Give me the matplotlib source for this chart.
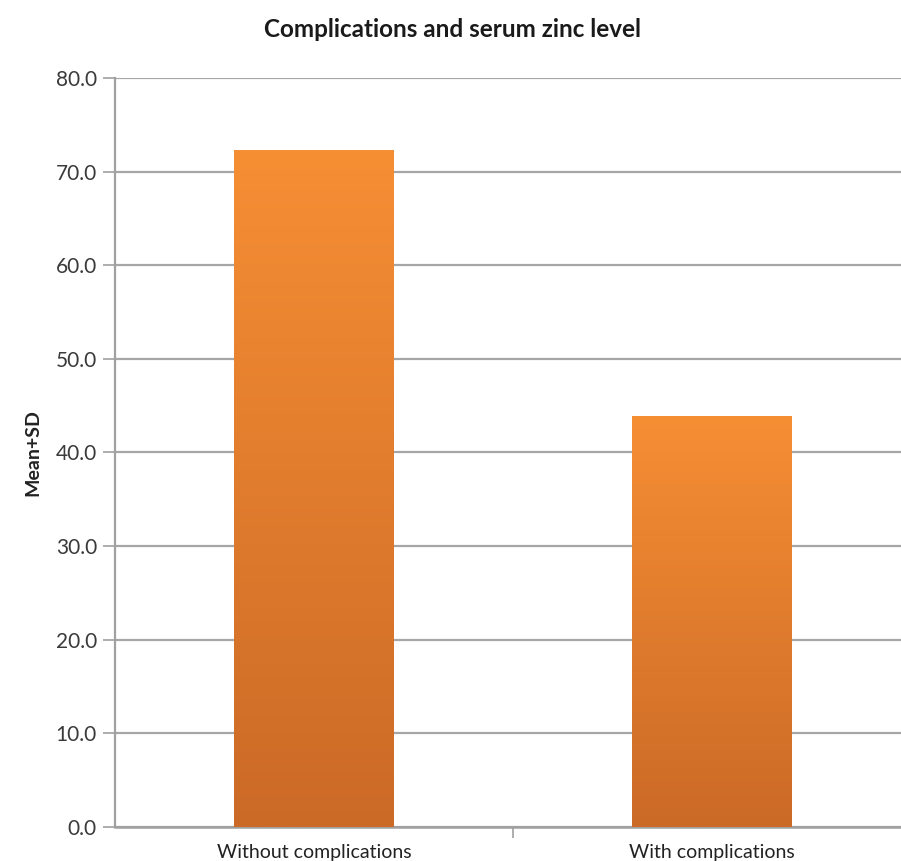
import numpy as np
import matplotlib.pyplot as plt
from matplotlib.colors import LinearSegmentedColormap

# Serum zinc level (mean + SD) by complication status
groups = ["Without complications", "With complications"]
values = [72.3, 43.9]
y_ticks = [0, 10, 20, 30, 40, 50, 60, 70, 80]

plt.rcParams['font.family'] = ['Lato', 'DejaVu Sans']

fig = plt.figure(figsize=(9.01, 8.61), dpi=100)
ax = fig.add_axes([0.1276, 0.0395, 0.8835, 0.8699])

x = np.arange(len(groups))
bars = ax.bar(x, values, width=0.4, color='none', zorder=3)

# vertical orange gradient inside each bar
grad_cmap = LinearSegmentedColormap.from_list('orange_grad', ['#CB6A27', '#F68E34'])
gradient = np.linspace(0, 1, 256).reshape(-1, 1)
for bar in bars:
    x0 = bar.get_x()
    x1 = x0 + bar.get_width()
    h = bar.get_height()
    img = ax.imshow(gradient, extent=[x0, x1, 0, h], origin='lower',
                    aspect='auto', cmap=grad_cmap, zorder=3)
    img.set_clip_path(bar)

ax.set_xlim(-0.5, 1.5)
ax.set_ylim(0, 80)

ax.set_yticks(y_ticks)
ax.set_yticklabels([f"{v:.1f}" for v in y_ticks], fontsize=15, color='#3a3a3a')
ax.yaxis.grid(True, color='#a6a6a6', linewidth=1.6, zorder=0)
ax.set_axisbelow(True)

# category labels centred, tick marks on the category boundaries
ax.set_xticks(x)
ax.set_xticklabels(groups, fontsize=14, color='#222222')
ax.tick_params(axis='x', length=0, pad=12)
ax.set_xticks([0.5], minor=True)
ax.tick_params(axis='x', which='minor', length=8, color='#a0a0a0', width=1.2)
ax.tick_params(axis='y', length=9, color='#a0a0a0', width=1.2, pad=4)

for side in ['top', 'right']:
    ax.spines[side].set_visible(False)
ax.spines['left'].set_color('#a0a0a0')
ax.spines['left'].set_linewidth(1.6)
ax.spines['bottom'].set_color('#a0a0a0')
ax.spines['bottom'].set_linewidth(1.8)

ax.set_ylabel("Mean+SD", fontsize=14, fontweight='bold', color='#222222', labelpad=10)
fig.text(0.502, 0.966, "Complications and serum zinc level", ha='center', va='center',
         fontsize=17.5, fontweight='bold', color='#1a1a1a')

fig.savefig("out.png", dpi=100, facecolor='white')
